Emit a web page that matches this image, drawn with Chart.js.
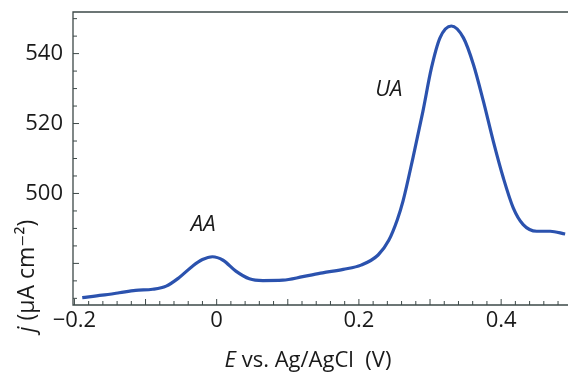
<!DOCTYPE html>
<html><head><meta charset="utf-8">
<script src="https://cdn.jsdelivr.net/npm/chart.js@4/dist/chart.umd.min.js"></script>
<style>html,body{margin:0;padding:0;background:#fff}#w{width:568px;height:373px}</style>
</head><body><div id="w"><canvas id="c"></canvas></div>
<script>
// Data
const potential = [-0.189,-0.161,-0.137,-0.114,-0.090,-0.071,-0.053,-0.034,-0.020,-0.006,0.009,0.027,0.046,0.065,0.093,0.121,0.149,0.178,0.203,0.227,0.242,0.254,0.262,0.276,0.290,0.302,0.314,0.330,0.347,0.361,0.375,0.389,0.403,0.417,0.431,0.450,0.469,0.490];
const currentDensity = [470.2,470.9,471.6,472.3,472.6,473.5,475.9,479.2,481.1,481.9,480.9,477.8,475.6,475.1,475.2,476.2,477.3,478.3,479.5,482.4,486.6,492.5,497.8,510.2,523.5,535.9,544.5,547.9,544.5,536.9,526.4,514.9,504.5,495.9,491.1,489.2,489.2,488.4];
const xTickLabels = {"-0.2":"−0.2","0":"0","0.2":"0.2","0.4":"0.4"};
const yTickLabels = [500,520,540];
const peakLabels = [{text:"AA",x:-0.019,y:491.1},{text:"UA",x:0.242,y:529.7}];

const X_MIN=-0.202, X_MAX=0.494, Y_MIN=468.1, Y_MAX=551.9;
const FONT='"Open Sans", "DejaVu Sans", sans-serif';
const AXIS_COLOR='#3d4948';

const decorPlugin={
  id:'decor',
  afterDraw(chart){
    const ctx=chart.ctx, a=chart.chartArea, xs=chart.scales.x, ys=chart.scales.y;
    ctx.save();
    ctx.strokeStyle=AXIS_COLOR; ctx.lineWidth=1.3;
    ctx.beginPath();
    ctx.moveTo(a.right,a.top);ctx.lineTo(a.left,a.top);ctx.lineTo(a.left,a.bottom);ctx.lineTo(a.right,a.bottom);
    ctx.stroke();
    ctx.lineWidth=1;
    for(let i=-10;i<=24;i++){
      const v=i*0.02; if(v<X_MIN||v>X_MAX) continue;
      const p=xs.getPixelForValue(v);
      const major=(i%5===0);
      ctx.beginPath();ctx.moveTo(p,a.bottom);ctx.lineTo(p,a.bottom-(major?6:4));ctx.stroke();
    }
    for(let v=470;v<=550;v+=5){
      const p=ys.getPixelForValue(v);
      const major=(v%20===0);
      ctx.beginPath();ctx.moveTo(a.left,p);ctx.lineTo(a.left+(major?6:4),p);ctx.stroke();
    }
    ctx.fillStyle='#1a1a1a';
    ctx.font='italic 22px '+FONT;
    ctx.textAlign='center';ctx.textBaseline='middle';
    peakLabels.forEach(l=>ctx.fillText(l.text,xs.getPixelForValue(l.x),ys.getPixelForValue(l.y)));
    ctx.textBaseline='alphabetic';
    ctx.font='italic 22px '+FONT;
    const t1='E', t2=' vs. Ag/AgCl  (V)';
    const w1=ctx.measureText(t1).width;
    ctx.font='22px '+FONT;
    const w2=ctx.measureText(t2).width;
    let sx=308-(w1+w2)/2;
    ctx.textAlign='left';
    ctx.font='italic 22px '+FONT; ctx.fillText(t1,sx,367);
    ctx.font='22px '+FONT; ctx.fillText(t2,sx+w1,367);
    ctx.translate(34,276);ctx.rotate(-Math.PI/2);
    const s1='j', s2=' (μA cm', s3='⁻²', s4=')';
    ctx.font='italic 23px '+FONT; const a1=ctx.measureText(s1).width;
    ctx.font='23px '+FONT; const a2=ctx.measureText(s2).width;
    const a3=ctx.measureText(s3).width; const a4=ctx.measureText(s4).width;
    let px=-(a1+a2+a3+a4)/2;
    ctx.font='italic 23px '+FONT; ctx.fillText(s1,px,0); px+=a1;
    ctx.font='23px '+FONT; ctx.fillText(s2,px,0); px+=a2;
    ctx.fillText(s3,px,0); px+=a3;
    ctx.fillText(s4,px,0);
    ctx.restore();
  }
};

new Chart(document.getElementById('c'),{
  type:'line',
  data:{datasets:[{
    data:potential.map((x,i)=>({x,y:currentDensity[i]})),
    borderColor:'#2b52ae',borderWidth:3.2,pointRadius:0,
    cubicInterpolationMode:'monotone',fill:false
  }]},
  options:{
    responsive:true,maintainAspectRatio:false,animation:false,
    layout:{padding:{top:12,right:0,left:0,bottom:0}},
    plugins:{legend:{display:false},tooltip:{enabled:false}},
    scales:{
      x:{type:'linear',min:X_MIN,max:X_MAX,
        afterFit(s){s.height=68;s.paddingLeft=0;s.paddingRight=0;},
        afterBuildTicks(s){s.ticks=Object.keys(xTickLabels).map(k=>({value:parseFloat(k)}));},
        grid:{display:false,drawTicks:false},border:{display:false},
        ticks:{color:'#1a1a1a',font:{family:FONT,size:22},padding:3,maxRotation:0,autoSkip:false,
          callback(v){const k=String(Math.round(v*10)/10);return xTickLabels[k]!==undefined?xTickLabels[k]:'';}}
      },
      y:{type:'linear',min:Y_MIN,max:Y_MAX,
        afterFit(s){s.width=73;s.paddingTop=0;s.paddingBottom=0;},
        afterBuildTicks(s){s.ticks=yTickLabels.map(v=>({value:v}));},
        grid:{display:false,drawTicks:false},border:{display:false},
        ticks:{color:'#1a1a1a',font:{family:FONT,size:22},padding:10,callback(v){return String(v);}}
      }
    }
  },
  plugins:[decorPlugin]
});
</script></body></html>
